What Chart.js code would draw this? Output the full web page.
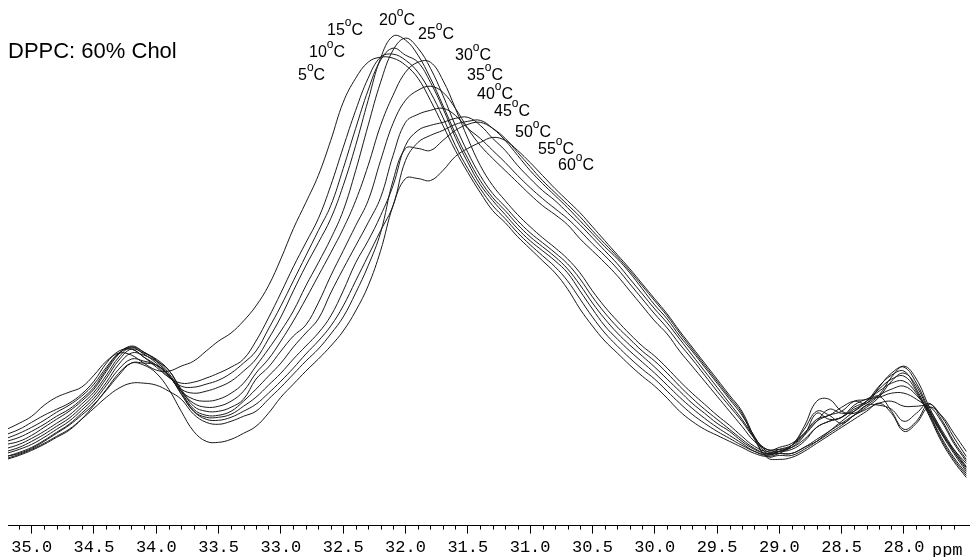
<!DOCTYPE html>
<html>
<head>
<meta charset="utf-8">
<title>DPPC: 60% Chol</title>
<script src="https://cdn.jsdelivr.net/npm/chart.js@4.4.1/dist/chart.umd.min.js"></script>
<style>
  html, body { margin: 0; padding: 0; background: #fff; }
  #wrap { width: 970px; height: 557px; }
</style>
</head>
<body>
<div id="wrap"><canvas id="spectrum" width="970" height="557"></canvas></div>
<script>
// chemical shift grid (ppm)
const ppm = [
  35.2, 35.1, 35.0, 34.9, 34.8, 34.7, 34.6, 34.5, 34.4, 34.3,
  34.2, 34.1, 34.0, 33.9, 33.8, 33.7, 33.6, 33.5, 33.4, 33.3,
  33.2, 33.1, 33.0, 32.9, 32.8, 32.7, 32.6, 32.5, 32.4, 32.3,
  32.2, 32.1, 32.0, 31.9, 31.8, 31.7, 31.6, 31.5, 31.4, 31.3,
  31.2, 31.1, 31.0, 30.9, 30.8, 30.7, 30.6, 30.5, 30.4, 30.3,
  30.2, 30.1, 30.0, 29.9, 29.8, 29.7, 29.6, 29.5, 29.4, 29.3,
  29.2, 29.1, 29.0, 28.9, 28.8, 28.7, 28.6, 28.5, 28.4, 28.3,
  28.2, 28.1, 28.0, 27.9, 27.8, 27.7, 27.6, 27.5
];

// intensities (arbitrary units) per temperature
const c5 = [
  96, 102, 109, 120, 128, 133, 138, 150, 164, 172,
  170, 162, 155, 154, 159, 164, 174, 184, 192, 204,
  219, 239, 266, 296, 322, 349, 384, 422, 446, 462,
  467, 466, 459, 446, 424, 399, 374, 352, 332, 314,
  302, 288, 276, 264, 252, 236, 216, 199, 184, 172,
  160, 149, 139, 127, 114, 104, 96, 90, 84, 78,
  72, 69, 72, 80, 96, 114, 110, 102, 110, 118,
  128, 144, 152, 139, 114, 92, 76, 62
];
const c10 = [
  91, 96, 103, 110, 116, 122, 131, 144, 162, 174,
  176, 168, 158, 148, 142, 143, 147, 152, 158, 166,
  184, 207, 232, 258, 282, 306, 339, 377, 414, 446,
  467, 470, 464, 452, 432, 407, 379, 356, 336, 319,
  306, 292, 280, 269, 258, 244, 226, 208, 192, 179,
  167, 156, 146, 134, 122, 111, 102, 94, 87, 80,
  74, 70, 74, 80, 99, 124, 126, 114, 112, 120,
  130, 148, 159, 146, 119, 94, 74, 58
];
const c15 = [
  87, 92, 98, 105, 113, 120, 129, 141, 158, 172,
  176, 168, 160, 148, 139, 138, 141, 145, 152, 162,
  174, 196, 219, 244, 269, 294, 319, 356, 396, 434,
  464, 476, 469, 462, 442, 416, 387, 362, 340, 324,
  310, 296, 284, 274, 264, 252, 234, 216, 199, 186,
  174, 163, 152, 140, 128, 117, 107, 98, 90, 82,
  74, 71, 74, 80, 92, 106, 110, 118, 124, 122,
  138, 152, 158, 142, 116, 92, 72, 54
];
const c20 = [
  84, 88, 94, 101, 109, 116, 126, 138, 156, 172,
  178, 171, 162, 149, 136, 132, 134, 138, 144, 154,
  166, 186, 208, 234, 259, 282, 306, 339, 379, 424,
  466, 488, 484, 469, 446, 419, 391, 366, 344, 327,
  314, 300, 288, 278, 268, 256, 240, 222, 206, 192,
  180, 169, 158, 146, 134, 122, 112, 102, 94, 84,
  76, 72, 74, 78, 90, 112, 106, 108, 118, 124,
  139, 150, 154, 136, 112, 86, 66, 50
];
const c25 = [
  81, 84, 90, 98, 106, 114, 124, 136, 154, 171,
  179, 173, 164, 150, 134, 126, 124, 126, 132, 142,
  159, 176, 194, 214, 239, 262, 286, 314, 354, 399,
  442, 474, 486, 476, 456, 429, 399, 372, 349, 331,
  318, 304, 292, 282, 272, 261, 246, 228, 212, 198,
  186, 174, 164, 152, 139, 127, 116, 106, 96, 86,
  77, 72, 76, 80, 90, 104, 116, 112, 114, 124,
  136, 146, 149, 134, 110, 84, 64, 48
];
const c30 = [
  77, 81, 87, 94, 102, 110, 121, 133, 150, 168,
  178, 173, 165, 152, 134, 122, 118, 119, 124, 134,
  152, 166, 184, 204, 226, 249, 272, 296, 324, 359,
  399, 429, 452, 462, 462, 444, 416, 386, 359, 339,
  324, 310, 298, 287, 277, 266, 252, 234, 218, 204,
  191, 179, 169, 157, 144, 132, 121, 110, 100, 89,
  79, 74, 78, 82, 92, 104, 110, 114, 124, 126,
  134, 142, 144, 132, 112, 88, 68, 52
];
const c35 = [
  74, 78, 84, 91, 99, 107, 118, 130, 147, 165,
  176, 172, 166, 155, 136, 119, 114, 114, 118, 126,
  146, 158, 174, 189, 200, 222, 249, 274, 299, 324,
  364, 401, 424, 434, 438, 432, 416, 396, 379, 366,
  354, 342, 330, 319, 310, 300, 286, 274, 262, 249,
  234, 219, 204, 191, 174, 159, 144, 129, 114, 99,
  84, 76, 76, 78, 86, 98, 104, 108, 116, 122,
  130, 136, 139, 130, 114, 94, 74, 56
];
const c40 = [
  72, 76, 81, 88, 96, 104, 115, 127, 143, 161,
  172, 170, 164, 155, 134, 116, 110, 110, 114, 124,
  136, 149, 162, 178, 192, 206, 232, 256, 279, 302,
  327, 369, 402, 410, 414, 416, 409, 396, 386, 374,
  362, 349, 337, 326, 316, 306, 294, 281, 269, 256,
  241, 226, 211, 197, 181, 166, 150, 134, 119, 104,
  87, 76, 74, 76, 84, 98, 104, 108, 120, 126,
  128, 132, 132, 126, 116, 96, 76, 59
];
const c45 = [
  69, 73, 78, 85, 93, 101, 112, 124, 140, 156,
  166, 164, 160, 150, 131, 114, 108, 108, 111, 119,
  128, 140, 152, 166, 179, 192, 209, 234, 262, 284,
  309, 339, 379, 394, 399, 402, 406, 407, 399, 386,
  374, 359, 346, 334, 324, 312, 300, 287, 274, 261,
  246, 231, 216, 202, 186, 170, 154, 138, 122, 106,
  88, 74, 72, 72, 78, 86, 94, 102, 110, 116,
  122, 124, 119, 119, 119, 104, 82, 64
];
const c50 = [
  69, 72, 77, 84, 92, 100, 110, 121, 135, 150,
  162, 162, 160, 150, 132, 114, 106, 105, 108, 114,
  121, 132, 144, 157, 171, 184, 199, 219, 244, 269,
  294, 319, 364, 382, 389, 394, 400, 403, 404, 396,
  384, 369, 354, 341, 329, 317, 304, 291, 278, 266,
  252, 236, 220, 206, 189, 174, 158, 142, 126, 110,
  89, 72, 72, 72, 78, 84, 92, 100, 110, 120,
  120, 116, 104, 112, 122, 106, 84, 66
];
const c55 = [
  67, 71, 76, 82, 89, 96, 106, 117, 128, 137,
  142, 142, 140, 134, 126, 111, 103, 101, 104, 109,
  114, 126, 138, 151, 164, 176, 191, 208, 232, 259,
  292, 344, 376, 376, 374, 384, 394, 400, 402, 396,
  386, 372, 358, 344, 332, 320, 308, 294, 281, 268,
  254, 239, 224, 209, 192, 176, 160, 144, 128, 112,
  86, 69, 70, 70, 76, 84, 94, 104, 114, 124,
  129, 114, 96, 104, 121, 109, 88, 69
];
const c60 = [
  66, 70, 75, 81, 88, 95, 106, 120, 136, 152,
  162, 160, 152, 136, 114, 94, 84, 83, 86, 92,
  99, 112, 128, 141, 154, 166, 179, 194, 214, 239,
  274, 319, 346, 346, 344, 354, 368, 376, 382, 387,
  384, 374, 362, 349, 336, 324, 312, 298, 284, 270,
  256, 241, 226, 211, 194, 178, 162, 146, 130, 114,
  88, 68, 66, 68, 74, 82, 90, 98, 106, 114,
  122, 112, 94, 102, 118, 110, 92, 74
];

const temps = ["5", "10", "15", "20", "25", "30", "35", "40", "45", "50", "55", "60"];
const spectra = [c5, c10, c15, c20, c25, c30, c35, c40, c45, c50, c55, c60];
const majorTicks = [35.0, 34.5, 34.0, 33.5, 33.0, 32.5, 32.0, 31.5, 31.0, 30.5, 30.0, 29.5, 29.0, 28.5, 28.0];

// where each temperature tag sits (canvas px: left, baseline)
const tagSpots = [
  [298, 80], [309, 57], [327, 35], [379, 25], [418, 39], [455, 60],
  [467, 80], [477, 99], [494, 116], [515, 137], [538, 154], [558, 170]
];

const sans = "'Liberation Sans', Arial, sans-serif";
const mono = "'Liberation Mono', 'Courier New', monospace";

const extras = {
  id: "extras",
  afterDraw(chart) {
    const ctx = chart.ctx;
    const x = chart.scales.x;
    const base = chart.chartArea.bottom;

    ctx.save();
    // minor ticks every 0.1 ppm
    ctx.strokeStyle = "#000";
    ctx.lineWidth = 1;
    ctx.beginPath();
    for (let k = 275; k <= 351; k++) {
      if (k % 5 === 0) continue;
      const px = Math.round(x.getPixelForValue(k / 10)) + 0.5;
      ctx.moveTo(px, base);
      ctx.lineTo(px, base + 4);
    }
    ctx.stroke();

    // unit
    ctx.fillStyle = "#000";
    ctx.font = "17px " + mono;
    ctx.textBaseline = "alphabetic";
    ctx.textAlign = "left";
    ctx.fillText("ppm", x.getPixelForValue(28.0) + 28, base + 29);

    // sample title
    ctx.font = "22px " + sans;
    ctx.fillText("DPPC: 60% Chol", 8, 58);

    // temperature tags, with raised "o" for degrees
    temps.forEach((t, i) => {
      let [tx, ty] = tagSpots[i];
      ctx.font = "16px " + sans;
      ctx.fillText(t, tx, ty);
      tx += ctx.measureText(t).width;
      ctx.font = "12px " + sans;
      ctx.fillText("o", tx, ty - 9);
      tx += ctx.measureText("o").width;
      ctx.font = "16px " + sans;
      ctx.fillText("C", tx, ty);
    });
    ctx.restore();
  }
};

const ctx = document.getElementById("spectrum").getContext("2d");

new Chart(ctx, {
  type: "line",
  data: {
    datasets: spectra.map((vals, i) => ({
      label: temps[i] + "°C",
      data: ppm.map((p, j) => ({ x: p, y: vals[j] })),
      borderColor: "#1a1a1a",
      borderWidth: 1,
      pointRadius: 0,
      tension: 0.4,
      fill: false
    }))
  },
  options: {
    responsive: false,
    animation: false,
    devicePixelRatio: 1,
    layout: { padding: { left: 8, right: 0, top: 0, bottom: -5 } },
    plugins: {
      legend: { display: false },
      tooltip: { enabled: false }
    },
    scales: {
      x: {
        type: "linear",
        reverse: true,
        min: 27.47,
        max: 35.19,
        afterBuildTicks: function (scale) {
          scale.ticks = majorTicks.map(v => ({ value: v }));
        },
        ticks: {
          callback: v => Number(v).toFixed(1),
          color: "#000",
          font: { family: mono, size: 17 },
          padding: 4,
          maxRotation: 0,
          autoSkip: false
        },
        grid: {
          drawOnChartArea: false,
          drawTicks: true,
          tickLength: 8,
          tickColor: "#000"
        },
        border: { display: true, color: "#000", width: 1 }
      },
      y: { display: false, min: 0, max: 524 }
    }
  },
  plugins: [extras]
});
</script>
</body>
</html>
